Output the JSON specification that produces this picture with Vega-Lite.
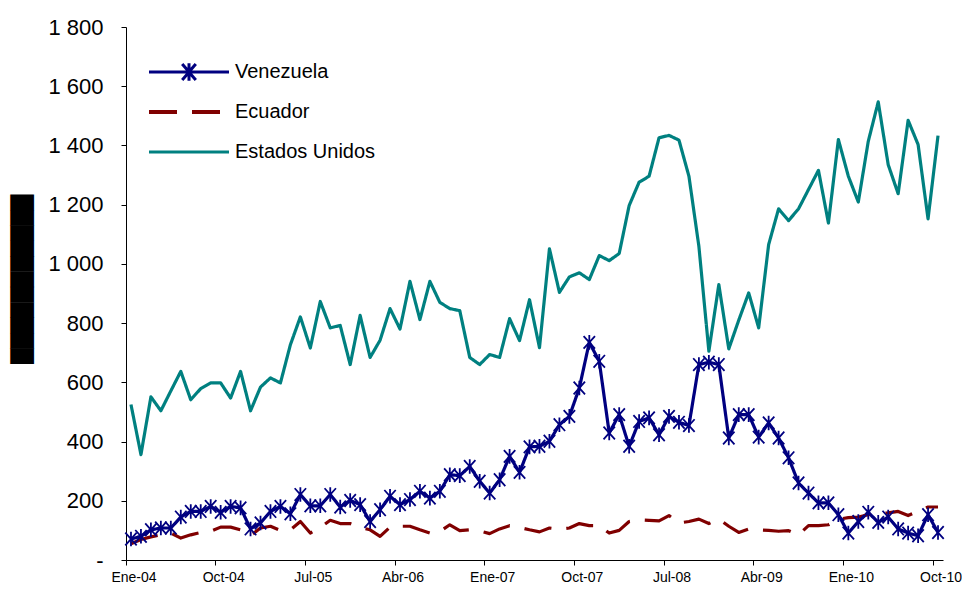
{
  "$schema": "https://vega.github.io/schema/vega-lite/v6.json",
  "width": 817,
  "height": 533,
  "autosize": "none",
  "padding": {"left": 126, "top": 27, "right": 19, "bottom": 30},
  "background": "white",
  "config": {
    "view": {"stroke": null},
    "font": "Liberation Sans",
    "axis": {"domainColor": "black", "tickColor": "black", "labelColor": "black", "grid": false, "labelFont": "Liberation Sans"}
  },
  "data": {"values": [
    {"m":"Ene-04","s":"Venezuela","v":71},{"m":"Feb-04","s":"Venezuela","v":80},{"m":"Mar-04","s":"Venezuela","v":102},{"m":"Abr-04","s":"Venezuela","v":108},{"m":"May-04","s":"Venezuela","v":108},{"m":"Jun-04","s":"Venezuela","v":145},{"m":"Jul-04","s":"Venezuela","v":164},{"m":"Ago-04","s":"Venezuela","v":164},{"m":"Sep-04","s":"Venezuela","v":181},{"m":"Oct-04","s":"Venezuela","v":161},{"m":"Nov-04","s":"Venezuela","v":181},{"m":"Dic-04","s":"Venezuela","v":176},
    {"m":"Ene-05","s":"Venezuela","v":105},{"m":"Feb-05","s":"Venezuela","v":125},{"m":"Mar-05","s":"Venezuela","v":164},{"m":"Abr-05","s":"Venezuela","v":181},{"m":"May-05","s":"Venezuela","v":156},{"m":"Jun-05","s":"Venezuela","v":221},{"m":"Jul-05","s":"Venezuela","v":183},{"m":"Ago-05","s":"Venezuela","v":183},{"m":"Sep-05","s":"Venezuela","v":221},{"m":"Oct-05","s":"Venezuela","v":179},{"m":"Nov-05","s":"Venezuela","v":201},{"m":"Dic-05","s":"Venezuela","v":187},
    {"m":"Ene-06","s":"Venezuela","v":130},{"m":"Feb-06","s":"Venezuela","v":170},{"m":"Mar-06","s":"Venezuela","v":215},{"m":"Abr-06","s":"Venezuela","v":187},{"m":"May-06","s":"Venezuela","v":204},{"m":"Jun-06","s":"Venezuela","v":232},{"m":"Jul-06","s":"Venezuela","v":209},{"m":"Ago-06","s":"Venezuela","v":232},{"m":"Sep-06","s":"Venezuela","v":288},{"m":"Oct-06","s":"Venezuela","v":285},{"m":"Nov-06","s":"Venezuela","v":316},{"m":"Dic-06","s":"Venezuela","v":266},
    {"m":"Ene-07","s":"Venezuela","v":226},{"m":"Feb-07","s":"Venezuela","v":271},{"m":"Mar-07","s":"Venezuela","v":350},{"m":"Abr-07","s":"Venezuela","v":296},{"m":"May-07","s":"Venezuela","v":382},{"m":"Jun-07","s":"Venezuela","v":384},{"m":"Jul-07","s":"Venezuela","v":401},{"m":"Ago-07","s":"Venezuela","v":457},{"m":"Sep-07","s":"Venezuela","v":485},{"m":"Oct-07","s":"Venezuela","v":581},{"m":"Nov-07","s":"Venezuela","v":735},{"m":"Dic-07","s":"Venezuela","v":671},
    {"m":"Ene-08","s":"Venezuela","v":429},{"m":"Feb-08","s":"Venezuela","v":491},{"m":"Mar-08","s":"Venezuela","v":384},{"m":"Abr-08","s":"Venezuela","v":468},{"m":"May-08","s":"Venezuela","v":480},{"m":"Jun-08","s":"Venezuela","v":423},{"m":"Jul-08","s":"Venezuela","v":485},{"m":"Ago-08","s":"Venezuela","v":465},{"m":"Sep-08","s":"Venezuela","v":454},{"m":"Oct-08","s":"Venezuela","v":660},{"m":"Nov-08","s":"Venezuela","v":668},{"m":"Dic-08","s":"Venezuela","v":660},
    {"m":"Ene-09","s":"Venezuela","v":412},{"m":"Feb-09","s":"Venezuela","v":491},{"m":"Mar-09","s":"Venezuela","v":491},{"m":"Abr-09","s":"Venezuela","v":415},{"m":"May-09","s":"Venezuela","v":463},{"m":"Jun-09","s":"Venezuela","v":412},{"m":"Jul-09","s":"Venezuela","v":345},{"m":"Ago-09","s":"Venezuela","v":260},{"m":"Sep-09","s":"Venezuela","v":226},{"m":"Oct-09","s":"Venezuela","v":193},{"m":"Nov-09","s":"Venezuela","v":193},{"m":"Dic-09","s":"Venezuela","v":153},
    {"m":"Ene-10","s":"Venezuela","v":91},{"m":"Feb-10","s":"Venezuela","v":130},{"m":"Mar-10","s":"Venezuela","v":161},{"m":"Abr-10","s":"Venezuela","v":127},{"m":"May-10","s":"Venezuela","v":145},{"m":"Jun-10","s":"Venezuela","v":105},{"m":"Jul-10","s":"Venezuela","v":91},{"m":"Ago-10","s":"Venezuela","v":82},{"m":"Sep-10","s":"Venezuela","v":153},{"m":"Oct-10","s":"Venezuela","v":93},

    {"m":"Ene-04","s":"Ecuador","v":55},{"m":"Feb-04","s":"Ecuador","v":69},{"m":"Mar-04","s":"Ecuador","v":78},{"m":"Abr-04","s":"Ecuador","v":85},{"m":"May-04","s":"Ecuador","v":91},{"m":"Jun-04","s":"Ecuador","v":74},{"m":"Jul-04","s":"Ecuador","v":85},{"m":"Ago-04","s":"Ecuador","v":93},{"m":"Sep-04","s":"Ecuador","v":97},{"m":"Oct-04","s":"Ecuador","v":111},{"m":"Nov-04","s":"Ecuador","v":111},{"m":"Dic-04","s":"Ecuador","v":102},
    {"m":"Ene-05","s":"Ecuador","v":82},{"m":"Feb-05","s":"Ecuador","v":108},{"m":"Mar-05","s":"Ecuador","v":114},{"m":"Abr-05","s":"Ecuador","v":100},{"m":"May-05","s":"Ecuador","v":102},{"m":"Jun-05","s":"Ecuador","v":130},{"m":"Jul-05","s":"Ecuador","v":91},{"m":"Ago-05","s":"Ecuador","v":110},{"m":"Sep-05","s":"Ecuador","v":134},{"m":"Oct-05","s":"Ecuador","v":123},{"m":"Nov-05","s":"Ecuador","v":123},{"m":"Dic-05","s":"Ecuador","v":110},
    {"m":"Ene-06","s":"Ecuador","v":102},{"m":"Feb-06","s":"Ecuador","v":80},{"m":"Mar-06","s":"Ecuador","v":111},{"m":"Abr-06","s":"Ecuador","v":114},{"m":"May-06","s":"Ecuador","v":114},{"m":"Jun-06","s":"Ecuador","v":102},{"m":"Jul-06","s":"Ecuador","v":91},{"m":"Ago-06","s":"Ecuador","v":96},{"m":"Sep-06","s":"Ecuador","v":119},{"m":"Oct-06","s":"Ecuador","v":99},{"m":"Nov-06","s":"Ecuador","v":102},{"m":"Dic-06","s":"Ecuador","v":98},
    {"m":"Ene-07","s":"Ecuador","v":89},{"m":"Feb-07","s":"Ecuador","v":105},{"m":"Mar-07","s":"Ecuador","v":116},{"m":"Abr-07","s":"Ecuador","v":110},{"m":"May-07","s":"Ecuador","v":102},{"m":"Jun-07","s":"Ecuador","v":95},{"m":"Jul-07","s":"Ecuador","v":108},{"m":"Ago-07","s":"Ecuador","v":104},{"m":"Sep-07","s":"Ecuador","v":108},{"m":"Oct-07","s":"Ecuador","v":123},{"m":"Nov-07","s":"Ecuador","v":116},{"m":"Dic-07","s":"Ecuador","v":116},
    {"m":"Ene-08","s":"Ecuador","v":91},{"m":"Feb-08","s":"Ecuador","v":100},{"m":"Mar-08","s":"Ecuador","v":130},{"m":"Abr-08","s":"Ecuador","v":136},{"m":"May-08","s":"Ecuador","v":134},{"m":"Jun-08","s":"Ecuador","v":132},{"m":"Jul-08","s":"Ecuador","v":150},{"m":"Ago-08","s":"Ecuador","v":125},{"m":"Sep-08","s":"Ecuador","v":130},{"m":"Oct-08","s":"Ecuador","v":138},{"m":"Nov-08","s":"Ecuador","v":123},{"m":"Dic-08","s":"Ecuador","v":138},
    {"m":"Ene-09","s":"Ecuador","v":114},{"m":"Feb-09","s":"Ecuador","v":93},{"m":"Mar-09","s":"Ecuador","v":105},{"m":"Abr-09","s":"Ecuador","v":102},{"m":"May-09","s":"Ecuador","v":100},{"m":"Jun-09","s":"Ecuador","v":97},{"m":"Jul-09","s":"Ecuador","v":99},{"m":"Ago-09","s":"Ecuador","v":85},{"m":"Sep-09","s":"Ecuador","v":116},{"m":"Oct-09","s":"Ecuador","v":116},{"m":"Nov-09","s":"Ecuador","v":119},{"m":"Dic-09","s":"Ecuador","v":138},
    {"m":"Ene-10","s":"Ecuador","v":143},{"m":"Feb-10","s":"Ecuador","v":145},{"m":"Mar-10","s":"Ecuador","v":153},{"m":"Abr-10","s":"Ecuador","v":156},{"m":"May-10","s":"Ecuador","v":159},{"m":"Jun-10","s":"Ecuador","v":164},{"m":"Jul-10","s":"Ecuador","v":150},{"m":"Ago-10","s":"Ecuador","v":165},{"m":"Sep-10","s":"Ecuador","v":179},{"m":"Oct-10","s":"Ecuador","v":179},

    {"m":"Ene-04","s":"Estados Unidos","v":525},{"m":"Feb-04","s":"Estados Unidos","v":356},{"m":"Mar-04","s":"Estados Unidos","v":551},{"m":"Abr-04","s":"Estados Unidos","v":504},{"m":"May-04","s":"Estados Unidos","v":571},{"m":"Jun-04","s":"Estados Unidos","v":637},{"m":"Jul-04","s":"Estados Unidos","v":541},{"m":"Ago-04","s":"Estados Unidos","v":579},{"m":"Sep-04","s":"Estados Unidos","v":598},{"m":"Oct-04","s":"Estados Unidos","v":598},{"m":"Nov-04","s":"Estados Unidos","v":547},{"m":"Dic-04","s":"Estados Unidos","v":637},
    {"m":"Ene-05","s":"Estados Unidos","v":504},{"m":"Feb-05","s":"Estados Unidos","v":584},{"m":"Mar-05","s":"Estados Unidos","v":615},{"m":"Abr-05","s":"Estados Unidos","v":598},{"m":"May-05","s":"Estados Unidos","v":727},{"m":"Jun-05","s":"Estados Unidos","v":821},{"m":"Jul-05","s":"Estados Unidos","v":716},{"m":"Ago-05","s":"Estados Unidos","v":873},{"m":"Sep-05","s":"Estados Unidos","v":784},{"m":"Oct-05","s":"Estados Unidos","v":792},{"m":"Nov-05","s":"Estados Unidos","v":660},{"m":"Dic-05","s":"Estados Unidos","v":826},
    {"m":"Ene-06","s":"Estados Unidos","v":684},{"m":"Feb-06","s":"Estados Unidos","v":742},{"m":"Mar-06","s":"Estados Unidos","v":849},{"m":"Abr-06","s":"Estados Unidos","v":780},{"m":"May-06","s":"Estados Unidos","v":941},{"m":"Jun-06","s":"Estados Unidos","v":812},{"m":"Jul-06","s":"Estados Unidos","v":941},{"m":"Ago-06","s":"Estados Unidos","v":870},{"m":"Sep-06","s":"Estados Unidos","v":849},{"m":"Oct-06","s":"Estados Unidos","v":842},{"m":"Nov-06","s":"Estados Unidos","v":684},{"m":"Dic-06","s":"Estados Unidos","v":660},
    {"m":"Ene-07","s":"Estados Unidos","v":694},{"m":"Feb-07","s":"Estados Unidos","v":684},{"m":"Mar-07","s":"Estados Unidos","v":815},{"m":"Abr-07","s":"Estados Unidos","v":741},{"m":"May-07","s":"Estados Unidos","v":879},{"m":"Jun-07","s":"Estados Unidos","v":717},{"m":"Jul-07","s":"Estados Unidos","v":1051},{"m":"Ago-07","s":"Estados Unidos","v":904},{"m":"Sep-07","s":"Estados Unidos","v":956},{"m":"Oct-07","s":"Estados Unidos","v":970},{"m":"Nov-07","s":"Estados Unidos","v":947},{"m":"Dic-07","s":"Estados Unidos","v":1028},
    {"m":"Ene-08","s":"Estados Unidos","v":1011},{"m":"Feb-08","s":"Estados Unidos","v":1035},{"m":"Mar-08","s":"Estados Unidos","v":1197},{"m":"Abr-08","s":"Estados Unidos","v":1276},{"m":"May-08","s":"Estados Unidos","v":1296},{"m":"Jun-08","s":"Estados Unidos","v":1426},{"m":"Jul-08","s":"Estados Unidos","v":1434},{"m":"Ago-08","s":"Estados Unidos","v":1418},{"m":"Sep-08","s":"Estados Unidos","v":1296},{"m":"Oct-08","s":"Estados Unidos","v":1059},{"m":"Nov-08","s":"Estados Unidos","v":705},{"m":"Dic-08","s":"Estados Unidos","v":930},
    {"m":"Ene-09","s":"Estados Unidos","v":713},{"m":"Feb-09","s":"Estados Unidos","v":810},{"m":"Mar-09","s":"Estados Unidos","v":902},{"m":"Abr-09","s":"Estados Unidos","v":784},{"m":"May-09","s":"Estados Unidos","v":1065},{"m":"Jun-09","s":"Estados Unidos","v":1186},{"m":"Jul-09","s":"Estados Unidos","v":1146},{"m":"Ago-09","s":"Estados Unidos","v":1186},{"m":"Sep-09","s":"Estados Unidos","v":1251},{"m":"Oct-09","s":"Estados Unidos","v":1316},{"m":"Nov-09","s":"Estados Unidos","v":1138},{"m":"Dic-09","s":"Estados Unidos","v":1420},
    {"m":"Ene-10","s":"Estados Unidos","v":1296},{"m":"Feb-10","s":"Estados Unidos","v":1209},{"m":"Mar-10","s":"Estados Unidos","v":1414},{"m":"Abr-10","s":"Estados Unidos","v":1547},{"m":"May-10","s":"Estados Unidos","v":1335},{"m":"Jun-10","s":"Estados Unidos","v":1237},{"m":"Jul-10","s":"Estados Unidos","v":1485},{"m":"Ago-10","s":"Estados Unidos","v":1403},{"m":"Sep-10","s":"Estados Unidos","v":1152},{"m":"Oct-10","s":"Estados Unidos","v":1433}
  ]},
  "encoding": {
    "x": {
      "field": "m", "type": "ordinal",
      "scale": {"type": "band", "paddingInner": 0, "paddingOuter": 0, "domain": ["Ene-04","Feb-04","Mar-04","Abr-04","May-04","Jun-04","Jul-04","Ago-04","Sep-04","Oct-04","Nov-04","Dic-04","Ene-05","Feb-05","Mar-05","Abr-05","May-05","Jun-05","Jul-05","Ago-05","Sep-05","Oct-05","Nov-05","Dic-05","Ene-06","Feb-06","Mar-06","Abr-06","May-06","Jun-06","Jul-06","Ago-06","Sep-06","Oct-06","Nov-06","Dic-06","Ene-07","Feb-07","Mar-07","Abr-07","May-07","Jun-07","Jul-07","Ago-07","Sep-07","Oct-07","Nov-07","Dic-07","Ene-08","Feb-08","Mar-08","Abr-08","May-08","Jun-08","Jul-08","Ago-08","Sep-08","Oct-08","Nov-08","Dic-08","Ene-09","Feb-09","Mar-09","Abr-09","May-09","Jun-09","Jul-09","Ago-09","Sep-09","Oct-09","Nov-09","Dic-09","Ene-10","Feb-10","Mar-10","Abr-10","May-10","Jun-10","Jul-10","Ago-10","Sep-10","Oct-10"]},
      "axis": {"title": null, "values": ["Ene-04","Oct-04","Jul-05","Abr-06","Ene-07","Oct-07","Jul-08","Abr-09","Ene-10","Oct-10"], "bandPosition": 0, "labelOffset": 3, "labelAngle": 0, "labelFontSize": 14, "tickSize": 5, "labelPadding": 5}
    },
    "y": {
      "field": "v", "type": "quantitative",
      "scale": {"domain": [0, 1800], "nice": false, "zero": true},
      "axis": {
        "values": [0,200,400,600,800,1000,1200,1400,1600,1800],
        "labelExpr": "datum.value == 0 ? '-\u00a0' : replace(format(datum.value, ','), ',', ' ')",
        "labelFontSize": 22, "tickSize": 5, "labelPadding": 18,
        "title": "███████████", "titleFont": "DejaVu Sans", "titleFontSize": 20, "titleColor": "black",
        "titleX": -104, "titleY": 252, "titleAngle": -90, "titleBaseline": "middle", "titleAlign": "center", "titleFontWeight": "normal"
      }
    }
  },
  "layer": [
    {
      "mark": {"type": "line", "strokeWidth": 3.2, "strokeJoin": "round"},
      "encoding": {
        "color": {
          "field": "s", "type": "nominal",
          "scale": {"domain": ["Venezuela", "Ecuador", "Estados Unidos"], "range": ["#000080", "#800000", "#008080"]},
          "legend": {
            "title": null, "orient": "none", "legendX": 23, "legendY": 25,
            "symbolType": "stroke", "symbolSize": 6400, "symbolStrokeWidth": 3,
            "labelFontSize": 20, "labelFont": "Liberation Sans", "labelColor": "black", "labelOffset": 6,
            "clipHeight": 40, "rowPadding": 0, "padding": 0,
            "encode": {
              "symbols": {"update": {
                "x": {"value": 40},
                "size": {"value": 6400},
                "shape": {"signal": "datum.value === 'Venezuela' ? 'M-1,0H1M-0.17,-0.2L0.17,0.2M-0.17,0.2L0.17,-0.2M0,-0.22V0.22' : 'M-1,0H1'"},
                "strokeDash": {"signal": "datum.value === 'Ecuador' ? [28,15] : [1,0]"},
                "strokeWidth": {"signal": "datum.value === 'Ecuador' ? 4 : 3"}
              }},
              "labels": {"update": {"x": {"value": 86}}}
            }
          }
        },
        "strokeDash": {
          "field": "s", "type": "nominal", "legend": null,
          "scale": {"domain": ["Venezuela", "Ecuador", "Estados Unidos"], "range": [[1,0],[28,15],[1,0]]}
        }
      }
    },
    {
      "transform": [{"filter": "datum.s === 'Venezuela'"}],
      "mark": {"type": "point", "shape": "M-0.9,-1L0.9,1M-0.9,1L0.9,-1M0,-1.15V1.15", "filled": false, "size": 160, "strokeWidth": 1.8, "color": "#000080", "opacity": 1}
    }
  ]
}
